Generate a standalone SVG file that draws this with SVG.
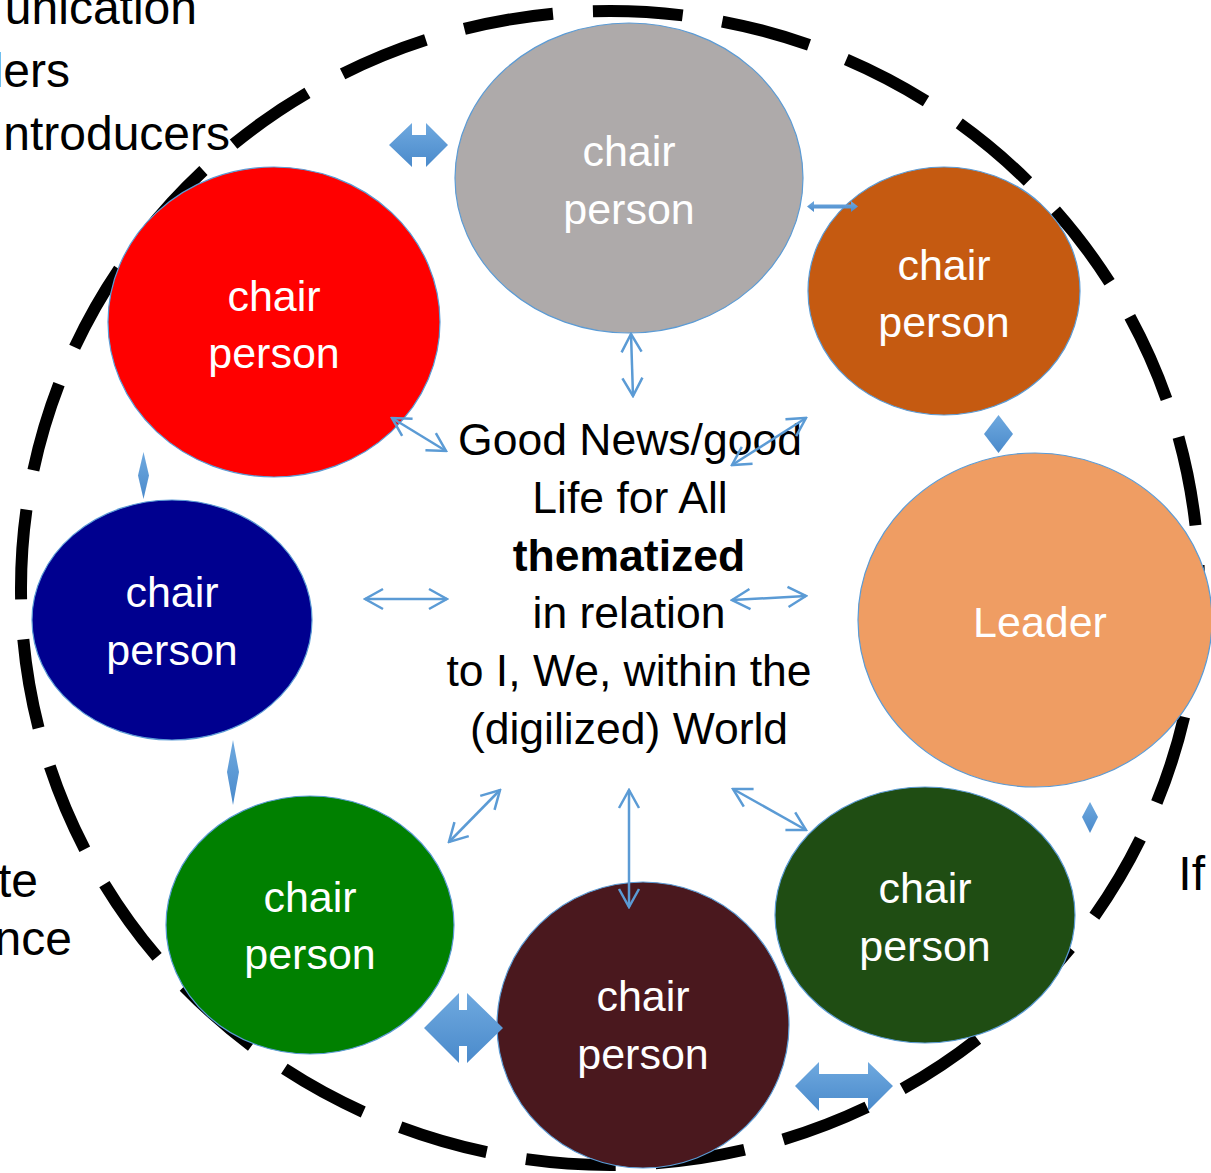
<svg xmlns="http://www.w3.org/2000/svg" width="1211" height="1173" viewBox="0 0 1211 1173">
  <style>
    .txt { font-family: "Liberation Sans", Arial, sans-serif; font-size: 43px; }
    .side { font-family: "Liberation Sans", Arial, sans-serif; font-size: 48px; fill: #000; text-anchor: end; }
    .lbl { fill: #fff; text-anchor: middle; }
    .mid { fill: #000; text-anchor: middle; font-size: 44.5px; }
    .node { stroke: #5B9BD5; stroke-width: 1.2; }
    .link { stroke: #5B9BD5; stroke-width: 2.5; fill: none; marker-start: url(#head); marker-end: url(#head); }
    .blk { fill: url(#blockFill); }
  </style>
  <defs>
    <marker id="head" viewBox="-20 -12 22 24" refX="0" refY="0" markerWidth="22" markerHeight="24" markerUnits="userSpaceOnUse" orient="auto-start-reverse">
      <path d="M-18,-10 L0,0 L-18,10" fill="none" stroke="#5B9BD5" stroke-width="2.5"/>
    </marker>
    <linearGradient id="blockFill" x1="0" y1="0" x2="0" y2="1">
      <stop offset="0" stop-color="#6FA9DF"/>
      <stop offset="1" stop-color="#4A8ACB"/>
    </linearGradient>
  </defs>

  <rect width="1211" height="1173" fill="#fff"/>

  <!-- side captions, cut off by the page edge -->
  <text class="side" x="197" y="24">unication</text>
  <text class="side" x="70" y="87">lers</text>
  <text class="side" x="230" y="150">ntroducers</text>
  <text class="side" x="38" y="897">te</text>
  <text class="side" x="72" y="955">ence</text>
  <text class="side" x="1205" y="890">If</text>

  <!-- outer boundary of the group -->
  <ellipse cx="610" cy="588" rx="589" ry="577" fill="none" stroke="#000" stroke-width="12" stroke-dasharray="90 40"/>

  <!-- nodes -->
  <g id="chair-top">
    <ellipse class="node" cx="629" cy="178" rx="174" ry="155" fill="#AEAAAA"/>
    <text class="txt lbl" x="629" y="166">chair</text>
    <text class="txt lbl" x="629" y="224">person</text>
  </g>
  <g id="chair-top-right">
    <ellipse class="node" cx="944" cy="291" rx="136" ry="124" fill="#C55A11"/>
    <text class="txt lbl" x="944" y="280">chair</text>
    <text class="txt lbl" x="944" y="337">person</text>
  </g>
  <g id="chair-top-left">
    <ellipse class="node" cx="274" cy="322" rx="166" ry="155" fill="#FF0000"/>
    <text class="txt lbl" x="274" y="311">chair</text>
    <text class="txt lbl" x="274" y="368">person</text>
  </g>
  <g id="chair-left">
    <ellipse class="node" cx="172" cy="620" rx="140" ry="120" fill="#00008F"/>
    <text class="txt lbl" x="172" y="607">chair</text>
    <text class="txt lbl" x="172" y="665">person</text>
  </g>
  <g id="leader">
    <ellipse class="node" cx="1035" cy="620" rx="177" ry="167" fill="#EF9D63"/>
    <text class="txt lbl" x="1040" y="637">Leader</text>
  </g>
  <g id="chair-bottom-left">
    <ellipse class="node" cx="310" cy="925" rx="144" ry="129" fill="#008000"/>
    <text class="txt lbl" x="310" y="912">chair</text>
    <text class="txt lbl" x="310" y="969">person</text>
  </g>
  <g id="chair-bottom-right">
    <ellipse class="node" cx="925" cy="915" rx="150" ry="128" fill="#1F4D13"/>
    <text class="txt lbl" x="925" y="903">chair</text>
    <text class="txt lbl" x="925" y="961">person</text>
  </g>
  <g id="chair-bottom">
    <ellipse class="node" cx="643" cy="1025" rx="146" ry="143" fill="#4A181E"/>
    <text class="txt lbl" x="643" y="1011">chair</text>
    <text class="txt lbl" x="643" y="1069">person</text>
  </g>

  <!-- central theme -->
  <g id="theme">
    <text class="txt mid" x="630" y="455">Good News/good</text>
    <text class="txt mid" x="630" y="513">Life for All</text>
    <text class="txt mid" x="629" y="571" font-weight="bold">thematized</text>
    <text class="txt mid" x="629" y="628">in relation</text>
    <text class="txt mid" x="629" y="686">to I, We, within the</text>
    <text class="txt mid" x="629" y="744">(digilized) World</text>
  </g>

  <!-- connectors -->
  <g id="connectors">
    <line class="link" x1="631" y1="334" x2="633" y2="396"/>
    <line class="link" x1="392" y1="418" x2="446" y2="451"/>
    <line class="link" x1="806" y1="418" x2="732" y2="465"/>
    <line class="link" x1="365" y1="599" x2="447" y2="599"/>
    <line class="link" x1="732" y1="600" x2="806" y2="596"/>
    <line class="link" x1="449" y1="842" x2="500" y2="790"/>
    <line class="link" x1="629" y1="790" x2="629" y2="907"/>
    <line class="link" x1="733" y1="789" x2="806" y2="830"/>

    <!-- block arrows between neighbouring chairs -->
    <polygon class="blk" points="389,145 412,123 412,135 426,135 426,123 448,145 426,167 426,157 412,157 412,167"/>
    <polygon class="blk" points="807,206.5 814,201 814,204.5 851,204.5 851,201 858,206.5 851,212 851,208.5 814,208.5 814,212"/>
    <polygon class="blk" points="998.5,415 1013,434 998.5,453 984,434"/>
    <polygon class="blk" points="143.5,452 149,475.5 143.5,499 138,475.5"/>
    <polygon class="blk" points="233,740 239,772 233,805 227,772"/>
    <polygon class="blk" points="1090,802 1098,817 1090,833 1082,817"/>
    <polygon class="blk" points="424,1028 459,993 459,1010 467,1010 467,993 503,1028 467,1063 467,1046 459,1046 459,1063"/>
    <polygon class="blk" points="795,1086 819,1062 819,1074 868,1074 868,1062 893,1086 868,1111 868,1098 819,1098 819,1111"/>
  </g>
</svg>
